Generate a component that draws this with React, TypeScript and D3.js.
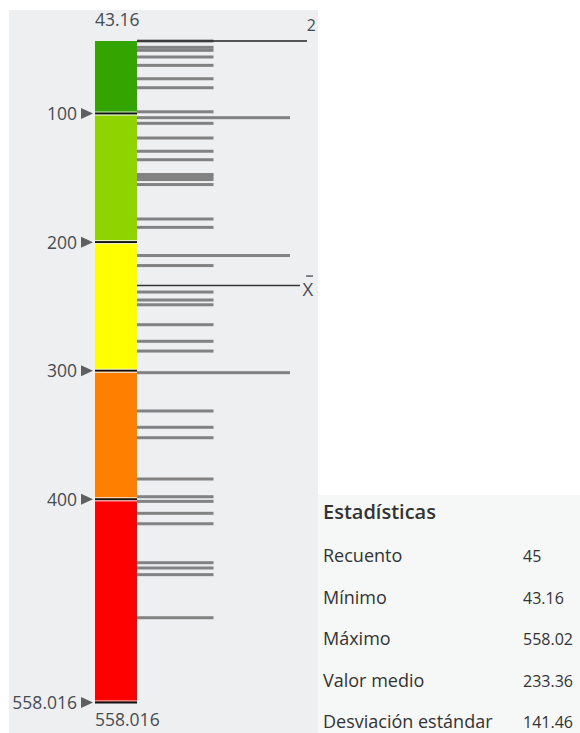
import React from "react";
import { scaleLinear } from "d3";

// classification histogram data
const minValue = 43.16;
const maxValue = 558.016;
const meanValue = 233.36;
const breaks = [100, 200, 300, 400, 558.016];
const breakLabels = ["100", "200", "300", "400", "558.016"];
const classColors = ["#34a400", "#8fd400", "#ffff00", "#ff8000", "#ff0000"];

const histValues = [
  43.16, 48.1, 50.4, 55.6, 62.1, 72.5, 79.5, 98.2, 102.8, 107.2, 118.6, 128.9,
  135.5, 147.0, 148.9, 150.9, 154.8, 181.6, 188.1, 210.0, 217.8, 238.4, 244.6,
  248.3, 263.8, 276.7, 284.3, 301.1, 330.9, 343.6, 351.7, 383.8, 397.6, 401.2,
  410.5, 418.6, 448.9, 453.0, 458.2, 491.7,
];
const histCounts = [
  1, 1, 1, 1, 1, 1, 1, 1, 2, 1, 1, 1, 1, 1, 1, 1, 1, 1, 1, 2, 1, 1, 1, 1, 1, 1,
  1, 2, 1, 1, 1, 1, 1, 1, 1, 1, 1, 1, 1, 1,
];
const maxCount = 2;

const statLabels = ["Recuento", "Mínimo", "Máximo", "Valor medio", "Desviación estándar"];
const statValues = ["45", "43.16", "558.02", "233.36", "141.46"];

const W = 580;
const H = 733;
const rampX0 = 95;
const rampX1 = 137;
const font = "'Open Sans', 'Noto Sans', sans-serif";
const labelColor = "#474b52";

export default function App() {
  const y = scaleLinear().domain([minValue, maxValue]).range([41, 703]);
  const x = scaleLinear().domain([0, maxCount]).range([rampX1, 290]);

  const edges = [minValue, ...breaks];

  return (
    <svg
      width={W}
      height={H}
      style={{ position: "absolute", left: 0, top: 0, background: "#fff" }}
    >
      {/* panel backgrounds */}
      <rect x={9} y={10} width={309} height={H - 10} fill="#eeeff1" />
      <rect x={318} y={495} width={W - 318} height={H - 495} fill="#f6f7f7" />

      {/* colour ramp */}
      {classColors.map((c, i) => (
        <rect
          key={c}
          x={rampX0}
          y={y(edges[i])}
          width={rampX1 - rampX0}
          height={y(edges[i + 1]) - y(edges[i])}
          fill={c}
        />
      ))}

      {/* break markers */}
      {breaks.map((b, i) => {
        const yy = y(b);
        return (
          <g key={b}>
            <rect x={rampX0} y={yy - 2.5} width={rampX1 - rampX0} height={1} fill="#f4f4f4" />
            <rect x={rampX0} y={yy - 1.5} width={rampX1 - rampX0} height={2} fill="#111" />
            {i < breaks.length - 1 && (
              <rect x={rampX0} y={yy + 0.5} width={rampX1 - rampX0} height={1} fill="#f4f4f4" />
            )}
            <path
              d={`M81,${yy - 6} L93,${yy - 0.5} L81,${yy + 5} Z`}
              fill="#5f5f5f"
            />
            <text
              x={77}
              y={yy + 6}
              textAnchor="end"
              fontFamily={font}
              fontSize={17.5}
              fill={labelColor}
            >
              {breakLabels[i]}
            </text>
          </g>
        );
      })}

      {/* histogram lines */}
      {histValues.map((v, i) => (
        <rect
          key={i}
          x={rampX1}
          y={y(v) - 1.5}
          width={x(histCounts[i]) - rampX1}
          height={3}
          fill="#828282"
        />
      ))}

      {/* count axis line and max count */}
      <line x1={rampX1} x2={307} y1={41} y2={41} stroke="#222" strokeWidth={1.5} />
      <text x={316} y={31} textAnchor="end" fontFamily={font} fontSize={16} fill={labelColor}>
        {maxCount}
      </text>

      {/* mean line */}
      <line
        x1={rampX1}
        x2={300}
        y1={y(meanValue)}
        y2={y(meanValue)}
        stroke="#333"
        strokeWidth={1.5}
      />
      <text
        x={302.5}
        y={y(meanValue) + 10.5}
        fontFamily={font}
        fontSize={18.5}
        fill={labelColor}
      >
        X
      </text>
      <line
        x1={306}
        x2={313}
        y1={y(meanValue) - 9.5}
        y2={y(meanValue) - 9.5}
        stroke={labelColor}
        strokeWidth={1.3}
      />

      {/* min / max labels on the ramp */}
      <text x={95} y={26} fontFamily={font} fontSize={17.5} fill={labelColor}>
        {minValue.toFixed(2)}
      </text>
      <text x={95} y={726} fontFamily={font} fontSize={17.5} fill={labelColor}>
        {breakLabels[breakLabels.length - 1]}
      </text>

      {/* statistics */}
      <text x={323} y={519} fontFamily={font} fontSize={20} fontWeight={600} fill="#333">
        Estadísticas
      </text>
      {statLabels.map((l, i) => (
        <g key={l}>
          <text x={323} y={562 + i * 41.5} fontFamily={font} fontSize={18} fill="#333">
            {l}
          </text>
          <text x={523} y={562 + i * 41.5} fontFamily={font} fontSize={16} fill="#333">
            {statValues[i]}
          </text>
        </g>
      ))}
    </svg>
  );
}
